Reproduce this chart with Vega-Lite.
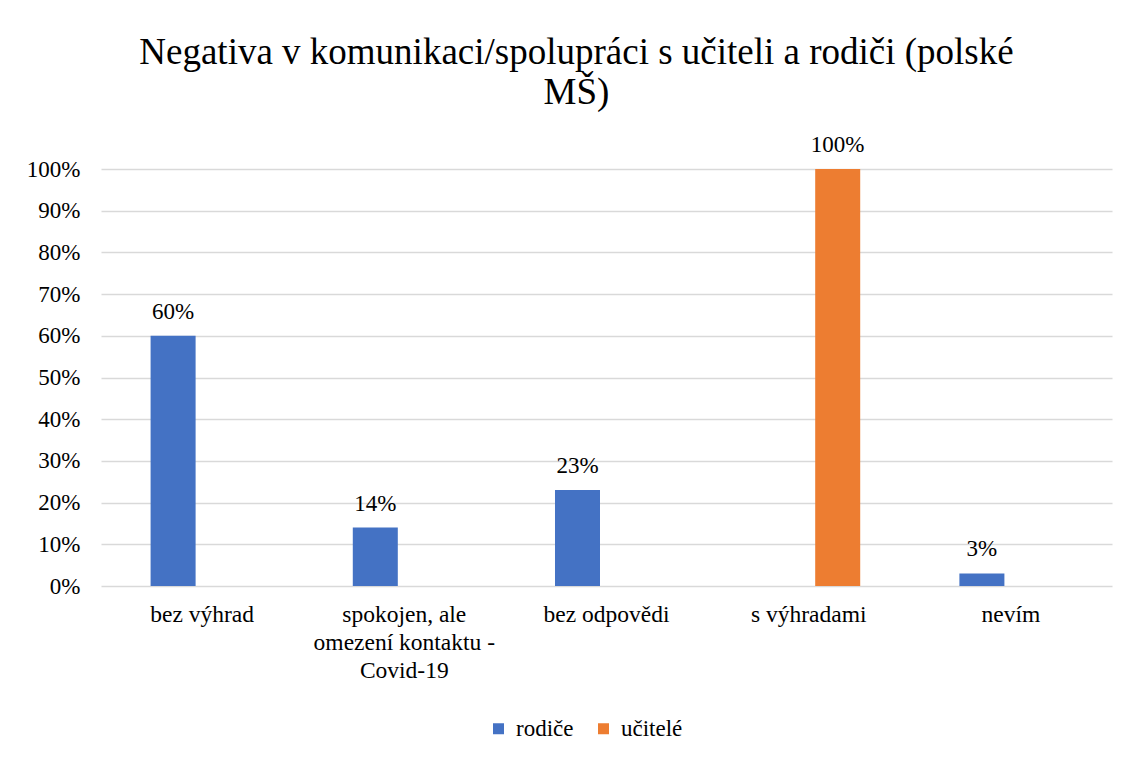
{
  "$schema": "https://vega.github.io/schema/vega-lite/v6.json",
  "autosize": "none",
  "width": 1011,
  "height": 417,
  "padding": {"left": 101, "top": 169, "right": 19, "bottom": 174},
  "background": "white",
  "title": {
    "text": ["Negativa v komunikaci/spolupráci s učiteli a rodiči (polské", "MŠ)"],
    "font": "Liberation Serif",
    "fontSize": 37,
    "fontWeight": "normal",
    "color": "#000000",
    "lineHeight": 40,
    "anchor": "middle",
    "dx": -30,
    "offset": 22
  },
  "data": {
    "values": [
      {"kategorie": "bez výhrad", "skupina": "rodiče", "podil": 0.60},
      {"kategorie": "spokojen, ale omezení kontaktu - Covid-19", "skupina": "rodiče", "podil": 0.14},
      {"kategorie": "bez odpovědi", "skupina": "rodiče", "podil": 0.23},
      {"kategorie": "s výhradami", "skupina": "učitelé", "podil": 1.00},
      {"kategorie": "nevím", "skupina": "rodiče", "podil": 0.03}
    ]
  },
  "encoding": {
    "x": {
      "field": "kategorie",
      "type": "nominal",
      "sort": ["bez výhrad", "spokojen, ale omezení kontaktu - Covid-19", "bez odpovědi", "s výhradami", "nevím"],
      "scale": {"paddingInner": 0, "paddingOuter": 0},
      "axis": {
        "title": null,
        "labelAngle": 0,
        "domain": false,
        "ticks": false,
        "labelFont": "Liberation Serif",
        "labelFontSize": 23.5,
        "labelColor": "#000000",
        "labelPadding": 16,
        "labelLineHeight": 28,
        "labelLimit": 300,
        "labelExpr": "datum.value == 'spokojen, ale omezení kontaktu - Covid-19' ? ['spokojen, ale', 'omezení kontaktu -', 'Covid-19'] : datum.value"
      }
    },
    "xOffset": {
      "field": "skupina",
      "type": "nominal",
      "scale": {"domain": ["rodiče", "učitelé"], "paddingInner": 0.224, "paddingOuter": 0.855}
    },
    "y": {
      "field": "podil",
      "type": "quantitative",
      "scale": {"domain": [0, 1]},
      "axis": {
        "title": null,
        "format": ".0%",
        "values": [0, 0.1, 0.2, 0.3, 0.4, 0.5, 0.6, 0.7, 0.8, 0.9, 1],
        "domain": false,
        "ticks": false,
        "grid": true,
        "gridColor": "#d9d9d9",
        "gridWidth": 1.5,
        "labelFont": "Liberation Serif",
        "labelFontSize": 23,
        "labelColor": "#000000",
        "labelPadding": 21
      }
    }
  },
  "layer": [
    {
      "mark": {"type": "bar"},
      "encoding": {
        "color": {
          "field": "skupina",
          "type": "nominal",
          "scale": {"domain": ["rodiče", "učitelé"], "range": ["#4472C4", "#ED7D31"]},
          "legend": {
            "title": null,
            "orient": "none",
            "legendX": 386,
            "legendY": 548,
            "direction": "horizontal",
            "symbolType": "square",
            "symbolSize": 121,
            "symbolStrokeWidth": 0,
            "labelFont": "Liberation Serif",
            "labelFontSize": 23,
            "labelColor": "#000000",
            "labelOffset": 6,
            "columnPadding": 18
          }
        }
      }
    },
    {
      "mark": {"type": "text", "baseline": "alphabetic", "dy": -17, "font": "Liberation Serif", "fontSize": 23, "color": "#000000"},
      "encoding": {
        "text": {"field": "podil", "type": "quantitative", "format": ".0%"}
      }
    }
  ],
  "config": {
    "font": "Liberation Serif",
    "view": {"stroke": null}
  }
}
